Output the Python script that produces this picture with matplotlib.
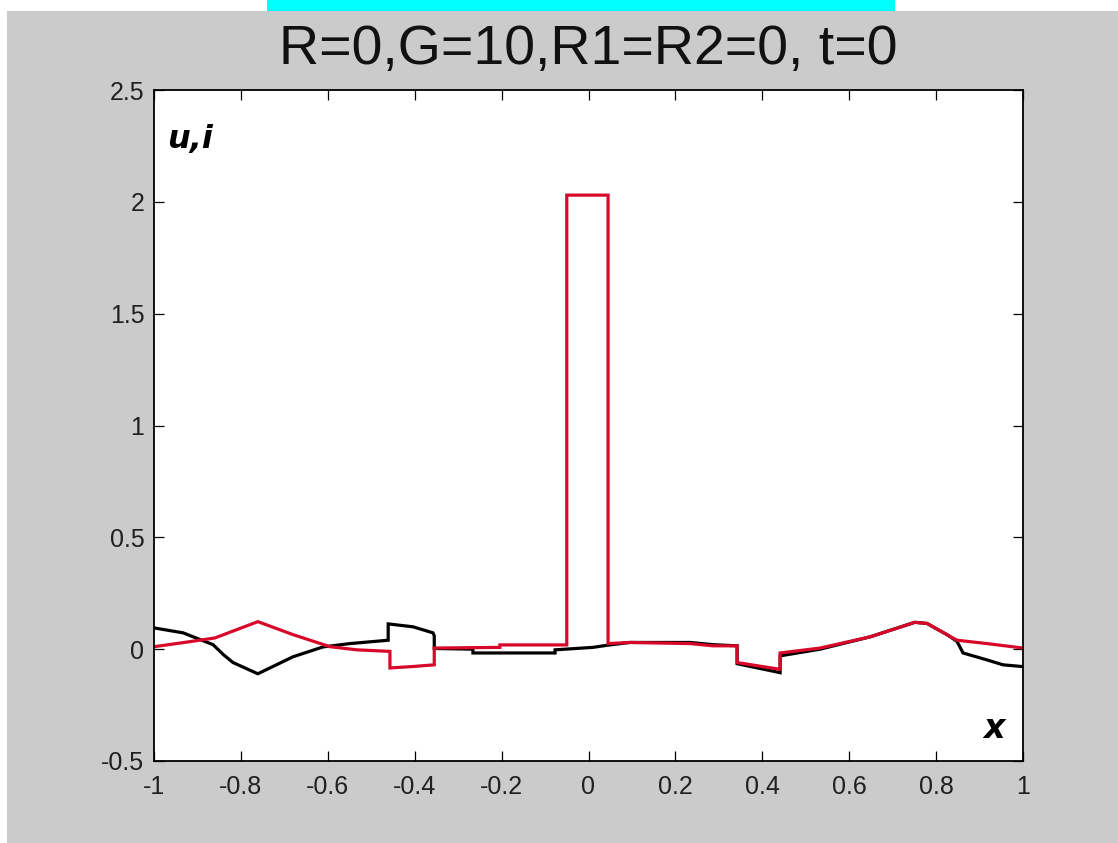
import numpy as np
import matplotlib
matplotlib.use("Agg")
import matplotlib.pyplot as plt
from matplotlib.patches import Rectangle

# red curve (i)
x_red = [-1.0, -0.93, -0.86, -0.761, -0.68, -0.595, -0.533, -0.457, -0.457,
         -0.40, -0.355, -0.355, -0.204, -0.204, -0.05, -0.05, 0.045, 0.045,
         0.095, 0.234, 0.287, 0.342, 0.342, 0.441, 0.441, 0.533, 0.648,
         0.751, 0.779, 0.825, 0.848, 0.917, 1.0]
y_red = [0.011, 0.03, 0.05, 0.123, 0.065, 0.011, -0.003, -0.01, -0.084,
         -0.077, -0.07, 0.005, 0.008, 0.019, 0.019, 2.03, 2.03, 0.025,
         0.03, 0.025, 0.015, 0.015, -0.06, -0.09, -0.017, 0.005, 0.055,
         0.12, 0.115, 0.065, 0.04, 0.025, 0.005]

# black curve (u)
x_blk = [-1.0, -0.933, -0.864, -0.84, -0.818, -0.761, -0.68, -0.611, -0.549,
         -0.461, -0.461, -0.404, -0.358, -0.355, -0.355, -0.266, -0.266,
         -0.077, -0.077, 0.01, 0.045, 0.095, 0.234, 0.287, 0.342, 0.342,
         0.441, 0.441, 0.533, 0.648, 0.751, 0.779, 0.825, 0.848, 0.862,
         0.917, 0.954, 1.0]
y_blk = [0.095, 0.073, 0.02, -0.025, -0.06, -0.11, -0.034, 0.01, 0.025,
         0.04, 0.113, 0.1, 0.073, 0.06, 0.003, 0.0, -0.017,
         -0.017, -0.003, 0.008, 0.018, 0.03, 0.03, 0.02, 0.015, -0.065,
         -0.105, -0.03, 0.0, 0.055, 0.12, 0.115, 0.065, 0.035, -0.017,
         -0.048, -0.07, -0.078]

xticks = [-1, -0.8, -0.6, -0.4, -0.2, 0, 0.2, 0.4, 0.6, 0.8, 1]
xticklabels = ['-1', '-0.8', '-0.6', '-0.4', '-0.2', '0', '0.2', '0.4', '0.6', '0.8', '1']
yticks = [-0.5, 0, 0.5, 1, 1.5, 2, 2.5]
yticklabels = ['-0.5', '0', '0.5', '1', '1.5', '2', '2.5']

W, H = 1118, 843
fig = plt.figure(figsize=(W / 100, H / 100), dpi=100, facecolor='white')

# grey panel (white strip on top and left), cyan strip at the top
fig.patches.append(Rectangle((7 / W, 0), 1 - 7 / W, 1 - 11 / H,
                             transform=fig.transFigure, facecolor='#cbcbcb',
                             edgecolor='none', zorder=-10))
fig.patches.append(Rectangle((267 / W, 1 - 11 / H), (895 - 267) / W, 11 / H,
                             transform=fig.transFigure, facecolor='#00ffff',
                             edgecolor='none', zorder=-10))

ax = fig.add_axes([154 / W, 82 / H, (1023 - 154) / W, (761 - 90) / H])
ax.set_facecolor('white')

ax.plot(x_blk, y_blk, color='black', lw=2.3, solid_joinstyle='miter')
ax.plot(x_red, y_red, color='#d8082a', lw=2.3, solid_joinstyle='miter')

ax.set_xlim(-1, 1)
ax.set_ylim(-0.5, 2.5)
ax.set_xticks(xticks)
ax.set_xticklabels(xticklabels)
ax.set_yticks(yticks)
ax.set_yticklabels(yticklabels)

tick_font = 'Liberation Sans'
for lab in ax.get_xticklabels() + ax.get_yticklabels():
    lab.set_fontfamily(tick_font)
    lab.set_fontsize(18)
    lab.set_color('#202020')

ax.tick_params(direction='in', length=7, width=0.9, top=True, right=True)
ax.tick_params(axis='x', pad=10)
ax.tick_params(axis='y', pad=7)
for s in ax.spines.values():
    s.set_linewidth(1.3)

ax.set_title('R=0,G=10,R1=R2=0, t=0', fontfamily='Liberation Sans',
             fontsize=40, pad=19, color='#111111')

ax.text(0.015, 0.9136, 'u,i', transform=ax.transAxes, fontsize=23,
        fontweight='bold', fontstyle='italic', va='baseline')
ax.text(0.954, 0.034, 'x', transform=ax.transAxes, fontsize=24,
        fontweight='bold', fontstyle='italic', va='baseline')

fig.savefig('out.png', dpi=100, facecolor=fig.get_facecolor())
